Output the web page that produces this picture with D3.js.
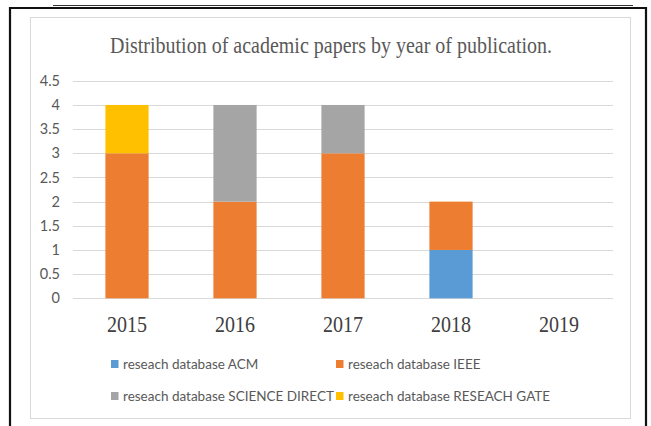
<!DOCTYPE html>
<html>
<head>
<meta charset="utf-8">
<script src="https://cdn.jsdelivr.net/npm/d3@7"></script>
<style>
  html, body { margin: 0; padding: 0; background: #fff; }
  svg { display: block; }
</style>
</head>
<body>
<script>
// Chart data
const years = ["2015", "2016", "2017", "2018", "2019"];
const seriesNames = [
  "reseach database ACM",
  "reseach database IEEE",
  "reseach database SCIENCE DIRECT",
  "reseach database RESEACH GATE"
];
const acm          = [0, 0, 0, 1, 0];
const ieee         = [3, 2, 3, 1, 0];
const scienceDirect= [0, 2, 1, 0, 0];
const researchGate = [1, 0, 0, 0, 0];
const yTicks = [0, 0.5, 1, 1.5, 2, 2.5, 3, 3.5, 4, 4.5];
const colors = ["#5b9bd5", "#ed7d31", "#a5a5a5", "#ffc000"];
const title = "Distribution of academic papers by year of publication.";

const W = 651, H = 426;
const sansFont = "Lato, 'Liberation Sans', Arial, sans-serif";
const serifFont = "'Liberation Serif', 'Times New Roman', serif";
const svg = d3.select("body").append("svg").attr("width", W).attr("height", H);

// Page decoration: thin rule above, heavy frame around the figure
svg.append("line").attr("x1", 53).attr("x2", 633).attr("y1", 5.5).attr("y2", 5.5)
  .attr("stroke", "#333").attr("stroke-width", 1);
svg.append("path").attr("d", `M10,${H} V8 H646 V${H}`)
  .attr("fill", "none").attr("stroke", "#111").attr("stroke-width", 2.2);

// Chart area border
svg.append("rect").attr("x", 30.5).attr("y", 17.5).attr("width", 600).attr("height", 401)
  .attr("fill", "#fff").attr("stroke", "#d9d9d9").attr("stroke-width", 1);

// Title
svg.append("text")
  .attr("x", 331).attr("y", 53)
  .attr("text-anchor", "middle")
  .attr("font-family", serifFont)
  .attr("font-size", 23)
  .attr("fill", "#595959")
  .attr("textLength", 442)
  .attr("lengthAdjust", "spacingAndGlyphs")
  .text(title);

// Scales
const x = d3.scaleBand().domain(years).range([73, 613]).paddingInner(0.6).paddingOuter(0.3);
const y = d3.scaleLinear().domain([0, 4.5]).range([298.3, 80.8]);

// Gridlines
svg.append("g").selectAll("line").data(yTicks).join("line")
  .attr("x1", 73).attr("x2", 613)
  .attr("y1", d => Math.round(y(d)) + 0.5).attr("y2", d => Math.round(y(d)) + 0.5)
  .attr("stroke", "#d9d9d9").attr("stroke-width", 1);

// Y axis labels
const yAxis = d3.axisLeft(y).tickValues(yTicks).tickSize(0).tickPadding(0)
  .tickFormat(d => String(d));
const yg = svg.append("g").attr("transform", "translate(60,0)").call(yAxis);
yg.select(".domain").remove();
yg.selectAll("text")
  .attr("font-family", sansFont)
  .attr("font-size", 14.5)
  .attr("fill", "#595959");

// Stacked bars
const rows = years.map((yr, i) => ({
  year: yr,
  [seriesNames[0]]: acm[i],
  [seriesNames[1]]: ieee[i],
  [seriesNames[2]]: scienceDirect[i],
  [seriesNames[3]]: researchGate[i]
}));
const stacked = d3.stack().keys(seriesNames)(rows);
svg.append("g").selectAll("g").data(stacked).join("g")
  .attr("fill", (d, i) => colors[i])
  .selectAll("rect").data(d => d).join("rect")
  .attr("x", d => x(d.data.year))
  .attr("width", x.bandwidth())
  .attr("y", d => y(d[1]))
  .attr("height", d => y(d[0]) - y(d[1]));

// X axis labels
const xAxis = d3.axisBottom(x).tickSize(0).tickPadding(0);
const xg = svg.append("g").attr("transform", "translate(0,298)").call(xAxis);
xg.select(".domain").remove();
xg.selectAll("text")
  .attr("dy", 0).attr("y", 34)
  .attr("font-family", serifFont)
  .attr("font-size", 23)
  .attr("fill", "#404040")
  .attr("textLength", 40)
  .attr("lengthAdjust", "spacingAndGlyphs");

// Legend (two columns, two rows)
const legendCols = [111, 336];
const legendRows = [364, 396];
const legend = svg.append("g").selectAll("g").data(seriesNames).join("g")
  .attr("transform", (d, i) => `translate(${legendCols[i % 2]},${legendRows[Math.floor(i / 2)]})`);
legend.append("rect").attr("x", 0).attr("y", -4).attr("width", 7.5).attr("height", 8)
  .attr("fill", (d, i) => colors[i]);
legend.append("text").attr("x", 12).attr("y", 5)
  .attr("font-family", sansFont)
  .attr("font-size", 13.5)
  .attr("fill", "#595959")
  .text(d => d);
</script>
</body>
</html>
